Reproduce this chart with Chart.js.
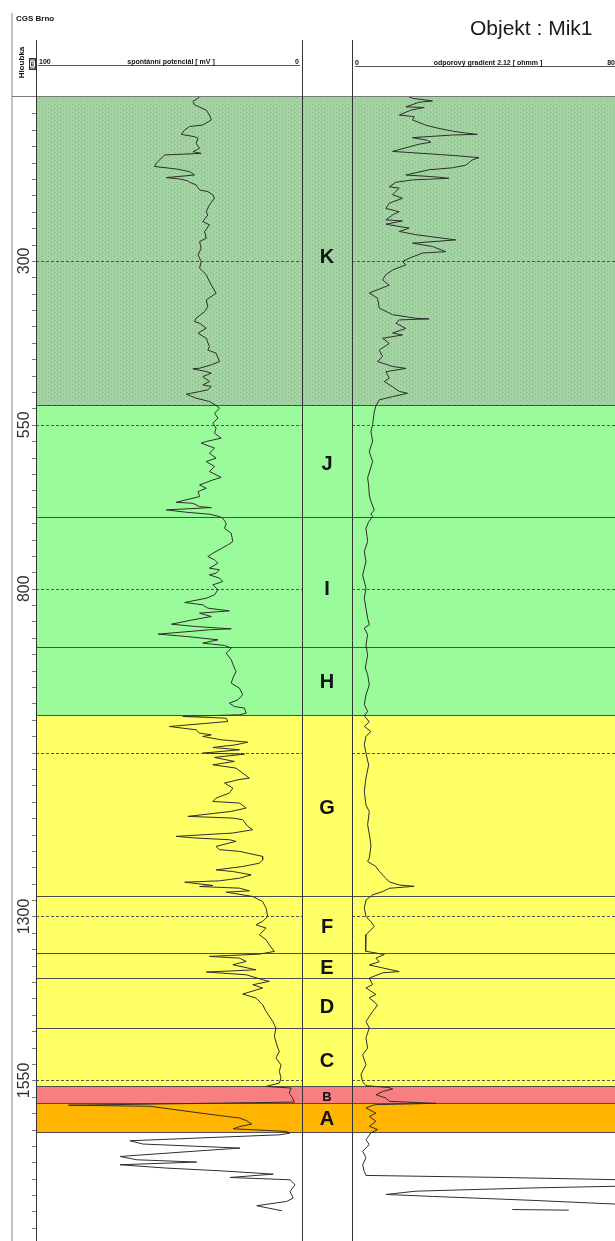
<!DOCTYPE html>
<html><head><meta charset="utf-8">
<script src="https://cdn.jsdelivr.net/npm/chart.js@4.4.1/dist/chart.umd.min.js"></script>
<style>
html,body{margin:0;padding:0;background:#fff;overflow:hidden;width:615px;height:1241px;}
#wrap{position:relative;width:615px;height:1241px;overflow:hidden;}
canvas{position:absolute;top:0;}
#spCanvas{left:0;}
#rgCanvas{left:352px;}
</style></head><body>
<div id="wrap">
<canvas id="spCanvas" width="352" height="1241"></canvas>
<canvas id="rgCanvas" width="266" height="1241"></canvas>
</div>
<script>
// ---------- DATA ----------
// spontaneous potential [depth m, mV]
const spCurve = [
[50,38.5],[57,41],[62,40.4],[70,36],[77.5,34.8],[85,34.1],[92.7,37.3],[95,42.3],[100.3,44.1],[107,45.4],[110.5,40.4],[113,39.1],[120.7,39.8],[128.3,38.5],[133.4,41],[136,37.9],[138.4,51.6],[151,54.8],[156,55.4],[159.8,47.3],[163.8,42.3],[169,40.4],[173,51],[175,46],[178,42.9],[180,42.3],[184,39.8],[191.8,38.5],[194.3,35.4],[199.4,33.5],[204.5,32.9],[214.6,34.8],[224.8,36],[230,35.4],[240,37.3],[245,34.8],[255.3,36.6],[265.4,36],[270.5,38.5],[280.7,37.9],[291,39.1],[301,37.9],[311,38.5],[321,36],[331.5,34.8],
[349.4,32.3],[359.6,36],[369.7,35.4],[377.3,36.6],[387.5,39.8],[392.6,40.4],[395.1,38.5],[402.7,36],[410.4,39.1],[418,36],[430.7,34.8],[435.8,35.4],[440.8,32.3],[453.5,31],[458.6,34.1],[463.7,38.5],[464.7,41],[468.8,36],[471.3,34.1],[476.4,37.3],[484,34.8],[489.1,37.3],[491.6,34.1],[496.7,35.4],[499.3,38.5],[503.3,43.5],[509.4,39.8],[514.5,34.8],[520.6,32.3],[524.7,31],[532.3,32.9],[539.9,31.6],[547.5,33.5],[555.1,32.3],[562.8,32.9],[570.4,30.4],[575.5,36],[578,37.9],[585.6,32.9],[593.2,34.8],[600.9,32.3],[606,36],[613.6,32.9],[621.2,34.8],[630.3,30.4],
[634.1,33.5],[641.7,38.5],[646.8,36],[651.9,39.1],[659.5,38.5],[668.2,47.3],[669.7,41],[674.8,38.5],[676.3,34.1],[679.8,51],[683.4,43.5],[686.4,34.8],[690,31],[692.5,29.8],[700.2,28.5],[707.8,29.1],[715.4,26.6],[728.1,26],[733.2,27.9],[745.9,33.5],[751,35.4],[756,32.9],[761.1,31.6],[768.7,34.8],[771.3,31],[776.4,32.3],[778.9,34.8],[784,31],[789.1,29.8],[794.1,33.5],[801.8,31.6],[809.4,32.9],[814.5,36],[821.1,44.1],[824.6,37.3],[829.7,35.4],[833.8,27.3],[837.3,38.5],[842.4,34.1],[847.5,41],[854.1,49.1],[857.6,40.4],[861.2,26.6],[862.7,34.8],[869.3,54.1],[872.9,43.5],[878,31.6],[883,37.3],[886.6,29.1],[890.7,26.6],[898.3,28.5],[908.4,26.6],[921.1,25.4],
[926.4,24.8],[936.5,26],[944.1,26.6],[951.8,23.5],[961.9,22.3],[969.5,24.1],[974.6,27.3],[979.7,25.4],[982.2,21.6],[989.9,21],[992.4,23.5],[994.9,44.8],[997.5,28.5],[1002.6,27.9],[1010.2,49.8],[1015.3,39.8],[1020.3,38.5],[1022.9,34.1],[1025.4,37.3],[1030.5,30.4],[1034.1,20.4],[1038.1,24.8],[1042.2,33.5],[1045.7,23.5],[1050.8,37.3],[1052.3,21.6],[1057.4,32.9],[1063.5,25.4],[1068.6,33.5],[1073.7,24.8],[1088.9,19.8],[1091.5,24.1],[1096.5,29.1],[1104.2,26],[1111.8,27.3],[1119.4,32.3],[1124.5,33.5],[1127,23.5],[1134.6,21],[1139.7,26.6],[1147.3,42.9],[1149.9,26],[1152.4,22.3],[1162.6,20.4],[1167.7,18.5],[1172.7,26],[1177.8,47.3],[1180.4,39.8],[1182.9,27.3],[1185.4,24.8],[1193.1,32.3],[1198.1,31],[1200.7,23.5],[1208.3,14.8],
[1213.6,14.8],[1218.7,16],[1223.8,22.3],[1228.9,32.3],[1231.4,26],[1236.5,19.1],[1241.6,23.5],[1245.6,31],[1247.7,44.1],[1252.7,33.5],[1254.3,38.5],[1256.8,23.5],[1260.9,19.8],[1262.9,28.5],[1269.5,18.5],[1277.1,14.8],[1287.3,13.5],[1300,12.9],[1307.6,14.8],[1312.7,17.3],[1317.8,13.5],[1327.9,16],[1335.5,13.5],[1343.2,12.3],[1353.3,10.4],[1357.4,16],[1360.9,34.8],[1363.5,23.5],[1368.6,21],[1373.6,26],[1381.3,17.3],[1384.8,36],[1388.9,21],[1396.5,14.8],[1399,12.3],[1404.1,18.5],[1409.2,14.8],[1418.3,22.3],[1424.4,17.3],[1434.6,14.8],[1444.8,13.5],[1460,11],[1470.2,9.8],[1482.9,10.4],[1500.6,9.1],
[1505.9,8.5],[1516,9.8],[1526.2,7.9],[1536.3,8.5],[1546.5,7.9],[1554.1,8.5],[1559.2,13.5],[1561.7,4.1],[1569.4,4.8],[1577,3.5],[1583.1,2.9],
[1587.9,87.8],[1589.5,57.1],[1599.8,38.3],[1605,28.3],[1607.5,23.3],[1611.6,20.8],[1616.7,18.9],[1620.3,23.3],[1623.8,25.9],[1627.9,5.8],[1630.4,4.5],[1633,8.3],[1642.1,64.7],[1647.1,59.8],[1653.3,23.3],[1657.4,38.3],[1666.1,68.4],[1671.1,62.1],[1674.6,39.6],[1678.7,68.4],[1683.8,50.9],[1687.9,30.8],[1693,10.8],[1698.1,27.1],[1701.6,4.5],[1709.2,2.6],[1719.4,4.5],[1729.5,3.3],[1734.7,5.8],[1741.2,17],[1748.9,7.6]
];
// resistivity gradient 2.12 [depth m, ohmm]
const rgCurve = [
[50,17.2],[52,18.2],[56,24.2],[58,20.2],[65,16.2],[66,21.7],[70,17.7],[77.5,14.2],[80,18.7],[85,18.2],[93,22.2],[98,26.2],[102,30.2],[105,34.2],[107,37.7],[108,30.2],[112,18.2],[116,22.7],[119,23.7],[122,20.2],[124,18.7],[133,12.2],[137,24.2],[139.5,31.2],[142.5,38.2],[146,36.2],[154,34.2],[158,30.2],[161,23.2],[169,16.2],[171.5,24.2],[174,29.2],[176.5,18.2],[180,13.2],[187,11.2],[189,14.2],[199,12.2],[204.5,15.2],[212,11.2],[220,10.2],[225,14.2],[230,12.2],[237.5,10.2],[239,15.2],[244,10.2],[250,17.2],[255,14.2],[260,19.2],[268,31.2],[273,18.2],[278,24.2],[286,28.2],[288,21.2],[296,17.2],[301,15.2],[306,16.2],[314,12.2],[321,10.2],[329,9.2],[337,11.2],
[349,5.2],[357,7.7],[372,8.2],[382,12.2],[387.5,19.2],[388.5,23.2],[390,14.2],[395,13.2],[403,16.2],[410,12.2],[413,15.2],[418,9.2],[426,11.2],[436,8.2],[446,9.2],[453.5,7.7],[461,12.2],[464,16.2],[469,10.2],[479,11.2],[484,9.7],[492,12.2],[499,14.2],[502,16.7],[507,12.2],[512,8.2],[521,7.2],[530,6.7],[550,6.2],[560,5.7],[575,6.2],[591,5.2],[606,6.2],[631,4.7],
[642,5],[657,5.2],[667,5.7],[680,6.7],[686,5.7],[690,6.2],[698,5],[708,4.2],[728,4.7],[743,3.7],[759,4.2],[779,3.2],[799,4.2],[814.5,3.7],[830,4.2],[845,4.7],[855,5.2],[860,3.7],[870,4.7],[886,4.2],[901,4.7],[921,4],
[931,4.7],[947,5.2],[962,4.2],[977,3.7],[987,4.7],[994,3.7],[1003,5.2],[1010,3.7],[1018,5.7],[1025,4.2],[1038,3.7],[1051,4.2],[1069,5],[1089,4.2],[1109,3.7],[1130,4.2],[1140,5.2],[1160,4.7],[1180,5.4],[1193,5.7],[1211,5.2],
[1216,4.7],[1224,7.2],[1231,8.2],[1242,10.2],[1247,11.2],[1252,14.2],[1254,18.7],[1257,11.2],[1262,9.2],[1267,6.2],[1275,4.2],[1287,3.7],[1300,4.2],[1308,5.7],[1315,6.7],[1328,4.2],[1343,4],[1353,4.2],[1358,9.7],[1363.5,7.2],[1369,8.2],[1374,5.2],[1384,14.2],[1386,9.2],[1394,5.2],[1404,6.2],[1409,4.2],[1419,7.2],[1424,5.2],[1435,7.7],[1445,6.2],[1460,4.2],[1470,5.2],[1485,4.2],[1501,4.7],
[1511,3.2],[1526,4.2],[1541,2.7],[1552,3.2],[1558,4.2],[1561,11.2],[1563,12.2],[1567,9.2],[1572,7.2],[1577,10.2],[1582,11.2],[1585,25.2],[1587,7.2],[1588,6.2],[1592,4.2],[1600,7.2],[1605,5.2],[1612.5,7.2],[1620,5.2],[1625,7.7],[1630,5.7],[1640.5,4.2],[1648,5.2],[1658,3.2],[1668,4.2],[1679,3.2],[1689,3.7],[1695,4.2],[1698,44.2],[1702,85],[1711,85],[1714,54.5],[1719,19.2],[1724,10.2],[1727,24.2],[1733,54.2],[1740,85]
];
const rgTailCurve = [[1747,48.2],[1748,65.2]];

const zoneNames   = ['K','J','I','H','G','F','E','D','C','B','A'];
const zoneTops    = [50,521,691,889,994,1270,1356,1394,1471,1560,1586];
const zoneBottoms = [521,691,889,994,1270,1356,1394,1471,1560,1586,1629];
const zoneLabelDepths = [293,609,800,941,1134,1316,1378,1437,1520,1574,1608];

const depthRange  = [50,1795];
const depthGrid   = [300,550,800,1050,1300,1550];
const depthLabels = [300,550,800,1300,1550];
const depthTickStep = 25;

const spRange = [0,100];   // drawn 100 (left) -> 0 (right)
const rgRange = [0,80];

const txt = {
  company:'CGS Brno',
  title:'Objekt : Mik1',
  depthAxis:'Hloubka',
  depthUnit:'[m]',
  spName:'spontánní potenciál [ mV ]',
  rgName:'odporový gradient 2.12 [ ohmm ]'
};

// ---------- STYLE ----------
const FONT = '"Liberation Sans", Arial, Helvetica, sans-serif';
const zoneColors = ['#a3d3a3','#99fb99','#99fb99','#99fb99','#ffff66','#ffff66','#ffff66','#ffff66','#ffff66','#f77f7f','#ffb400'];
const zoneFontSize = [20,20,20,20,20,20,20,20,20,13,20];

function makePattern(ctx){
  const c = document.createElement('canvas'); c.width = 6; c.height = 4;
  const g = c.getContext('2d');
  g.fillStyle = zoneColors[0]; g.fillRect(0,0,6,4);
  g.fillStyle = 'rgba(80,135,80,0.35)';
  g.fillRect(0,0,1,1); g.fillRect(3,2,1,1);
  return ctx.createPattern(c,'repeat');
}
const py = (chart,d) => chart.scales.y.getPixelForValue(d);
const crisp = v => Math.round(v) + 0.5;

function drawZones(chart, x0, x1, gx0, gx1){
  const ctx = chart.ctx;
  ctx.save();
  const pat = makePattern(ctx);
  zoneNames.forEach((n,i)=>{
    const y0 = py(chart,zoneTops[i]), y1 = py(chart,zoneBottoms[i]);
    ctx.fillStyle = i === 0 ? pat : zoneColors[i];
    ctx.fillRect(x0, y0, x1 - x0, y1 - y0);
  });
  // dashed depth grid
  ctx.strokeStyle = '#555'; ctx.lineWidth = 1; ctx.setLineDash([3,2]);
  depthGrid.forEach(d=>{
    const y = crisp(py(chart,d));
    ctx.beginPath(); ctx.moveTo(gx0,y); ctx.lineTo(gx1,y); ctx.stroke();
  });
  ctx.setLineDash([]);
  ctx.strokeStyle = '#4d4d4d';
  zoneBottoms.forEach(d=>{
    const y = crisp(py(chart,d) - 0.5);
    ctx.beginPath(); ctx.moveTo(x0,y); ctx.lineTo(x1,y); ctx.stroke();
  });
  ctx.restore();
}
function line(ctx,x0,y0,x1,y1){ctx.beginPath();ctx.moveTo(x0,y0);ctx.lineTo(x1,y1);ctx.stroke();}
function vtext(ctx, s, x, y, font, color){
  ctx.save(); ctx.translate(x,y); ctx.rotate(-Math.PI/2);
  ctx.font = font; ctx.fillStyle = color; ctx.textAlign='center'; ctx.textBaseline='middle';
  ctx.fillText(s,0,0); ctx.restore();
}

const spDecor = {
  id:'spDecor',
  beforeDatasetsDraw(chart){
    const a = chart.chartArea;
    drawZones(chart, a.left, chart.width, a.left, a.right);
  },
  afterDatasetsDraw(chart){
    const ctx = chart.ctx, a = chart.chartArea, W = chart.width, H = chart.height;
    ctx.save();
    // left grey frame
    ctx.fillStyle = '#c4c4c4'; ctx.fillRect(11, 13, 2, H - 13);
    // top line
    ctx.strokeStyle = '#7a7a7a'; ctx.lineWidth = 1;
    line(ctx, 12, crisp(a.top) - 1, W, crisp(a.top) - 1);
    // track borders
    ctx.strokeStyle = '#333';
    line(ctx, 36.5, 40, 36.5, H);
    line(ctx, 302.5, 40, 302.5, H);
    // header scale line
    ctx.strokeStyle = '#555';
    line(ctx, 38, 65.5, 300, 65.5);
    ctx.fillStyle = '#111';
    ctx.font = 'bold 7px ' + FONT; ctx.textBaseline = 'alphabetic';
    ctx.textAlign = 'left';  ctx.fillText(String(spRange[1]), 39, 64);
    ctx.textAlign = 'center'; ctx.fillText(txt.spName, 171, 64);
    ctx.textAlign = 'right'; ctx.fillText(String(spRange[0]), 299, 64);
    ctx.textAlign = 'left'; ctx.font = 'bold 8px ' + FONT;
    ctx.fillText(txt.company, 16, 21);
    vtext(ctx, txt.depthAxis, 21.5, 62.5, 'bold 8px ' + FONT, '#111');
    ctx.strokeStyle = '#333';
    ctx.strokeRect(29.5, 58.5, 6, 11);
    vtext(ctx, txt.depthUnit, 32.5, 64, 'bold 6px ' + FONT, '#111');
    // depth ticks
    ctx.strokeStyle = '#7a7a7a';
    for (let d = depthRange[0] + depthTickStep; d < depthRange[1]; d += depthTickStep){
      const y = crisp(py(chart,d));
      line(ctx, 32, y, 36, y);
    }
    depthLabels.forEach(d=>{
      vtext(ctx, String(d), 25, py(chart,d), '16px ' + FONT, '#333');
    });
    // zone labels in the middle column
    zoneNames.forEach((n,i)=>{
      ctx.font = 'bold ' + zoneFontSize[i] + 'px ' + FONT;
      ctx.fillStyle = '#111'; ctx.textAlign = 'center'; ctx.textBaseline = 'middle';
      ctx.fillText(n, 327, py(chart, zoneLabelDepths[i]) + 1);
    });
    ctx.restore();
  }
};

const rgDecor = {
  id:'rgDecor',
  beforeDatasetsDraw(chart){
    drawZones(chart, 0, chart.width, 0, chart.width);
  },
  afterDatasetsDraw(chart){
    const ctx = chart.ctx, a = chart.chartArea, W = chart.width, H = chart.height;
    ctx.save();
    ctx.strokeStyle = '#7a7a7a'; ctx.lineWidth = 1;
    line(ctx, 0, crisp(a.top) - 1, W, crisp(a.top) - 1);
    ctx.strokeStyle = '#333';
    line(ctx, 0.5, 40, 0.5, H);
    ctx.strokeStyle = '#555';
    line(ctx, 3, 66.5, W, 66.5);
    ctx.fillStyle = '#111';
    ctx.font = 'bold 7px ' + FONT; ctx.textBaseline = 'alphabetic';
    ctx.textAlign = 'left'; ctx.fillText(String(rgRange[0]), 3, 64.5);
    ctx.textAlign = 'center'; ctx.fillText(txt.rgName, 136, 64.5);
    ctx.textAlign = 'right'; ctx.fillText(String(rgRange[1]), 263, 64.5);
    ctx.font = '21px ' + FONT; ctx.textAlign = 'left'; ctx.fillStyle = '#1a1a1a';
    ctx.fillText(txt.title, 118, 35);
    ctx.restore();
  }
};

const curveStyle = { showLine:true, pointRadius:0, borderColor:'#2e2e2e', borderWidth:1, tension:0, fill:false };
const baseOpts = (pad, xr, rev) => ({
  responsive:false, animation:false, devicePixelRatio:1, events:[],
  layout:{ padding: pad },
  scales:{
    x:{ type:'linear', min:xr[0], max:xr[1], reverse:rev, display:false },
    y:{ type:'linear', min:depthRange[0], max:depthRange[1], reverse:true, display:false }
  },
  plugins:{ legend:{display:false}, tooltip:{enabled:false}, title:{display:false} }
});

new Chart(document.getElementById('spCanvas'), {
  type:'scatter',
  data:{ datasets:[ Object.assign({ data: spCurve.map(([d,v])=>({x:v,y:d})) }, curveStyle) ] },
  options: baseOpts({left:36, top:97, right:50, bottom:0}, spRange, true),
  plugins:[spDecor]
});
new Chart(document.getElementById('rgCanvas'), {
  type:'scatter',
  data:{ datasets:[
    Object.assign({ data: rgCurve.map(([d,v])=>({x:v,y:d})) }, curveStyle),
    Object.assign({ data: rgTailCurve.map(([d,v])=>({x:v,y:d})) }, curveStyle)
  ] },
  options: baseOpts({left:0, top:97, right:0, bottom:0}, rgRange, false),
  plugins:[rgDecor]
});
</script>
</body></html>
